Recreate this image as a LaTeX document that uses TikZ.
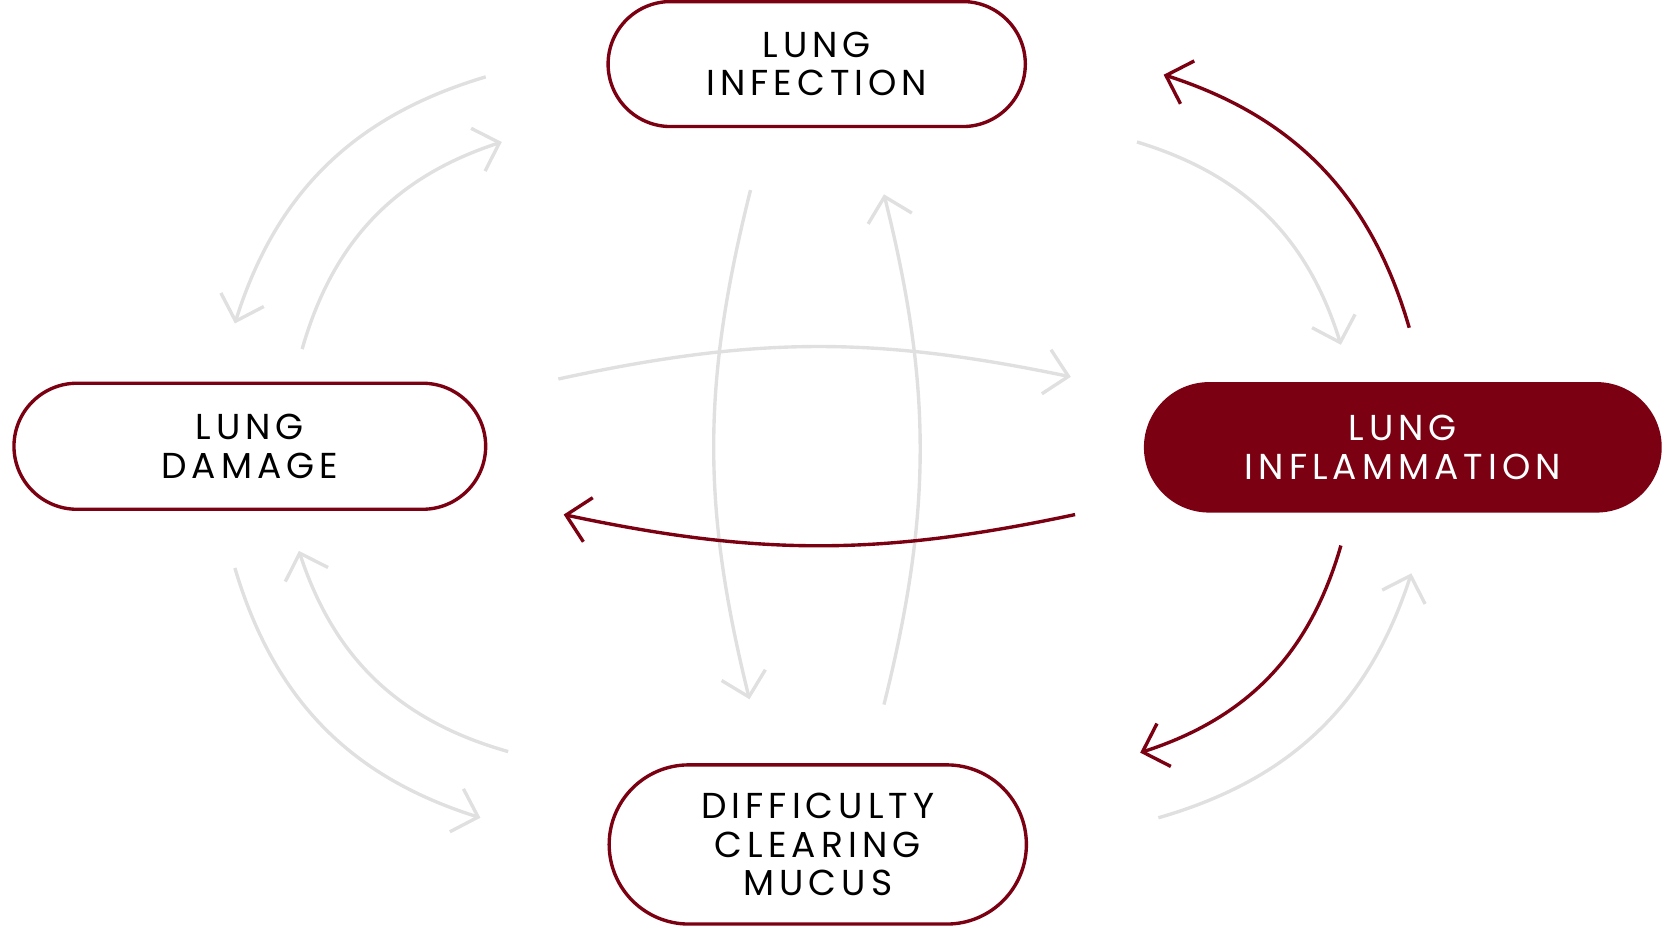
\documentclass[tikz,border=0pt]{standalone}
\usepackage{fontspec}
\setmainfont{Poppins}[LetterSpace=14]
\usetikzlibrary{arrows.meta}
\usetikzlibrary{shapes.misc}
\definecolor{wine}{RGB}{122,0,18}
\definecolor{softgrey}{RGB}{224,224,224}
\begin{document}
\begin{tikzpicture}[x=0.01cm, y=0.01cm,
		pill/.style={rounded rectangle, draw=wine, line width=0.9pt, fill=white, text=black, align=center, font=\fontsize{9.6}{10.3}\selectfont},
		hot/.style={pill, fill=wine, text=white},
		link/.style={-{Straight Barb[length=6pt,width=12pt]}, line width=0.9pt, draw=softgrey},
		key/.style={link, draw=wine}
	]
	\useasboundingbox (0,0) rectangle (1568,-870);
	% Nodes
	\node[pill, minimum width=4.14cm, minimum height=1.17cm] (infection) at (765,-60) {LUNG\\INFECTION};
	\node[pill, minimum width=4.65cm, minimum height=1.18cm] (damage) at (234,-418) {LUNG\\DAMAGE};
	\node[hot, minimum width=5.05cm, minimum height=1.19cm] (inflam) at (1314,-419) {LUNG\\INFLAMMATION};
	\node[pill, minimum width=4.14cm, minimum height=1.49cm] (mucus) at (766,-791) {DIFFICULTY\\CLEARING\\MUCUS};

	% Arrow ends
	\coordinate (a1) at (455,-72);   \coordinate (b1) at (220,-303);
	\coordinate (a2) at (283,-327);  \coordinate (b2) at (470,-133);
	\coordinate (a3) at (1065,-133); \coordinate (b3) at (1256,-323);
	\coordinate (a4) at (703,-178);  \coordinate (b4) at (702,-655);
	\coordinate (a5) at (828,-660);  \coordinate (b5) at (828,-182);
	\coordinate (a6) at (523,-355);  \coordinate (b6) at (1003,-353);
	\coordinate (a7) at (220,-532);  \coordinate (b7) at (450,-766);
	\coordinate (a8) at (476,-704);  \coordinate (b8) at (280,-516);
	\coordinate (a9) at (1085,-766); \coordinate (b9) at (1322,-537);
	\coordinate (r1) at (1320,-307); \coordinate (s1) at (1090,-70);
	\coordinate (r2) at (1007,-482); \coordinate (s2) at (528,-482);
	\coordinate (r3) at (1256,-511); \coordinate (s3) at (1068,-705);

	% Grey arrows
	\draw[link] (a1) to[bend right=28] (b1);
	\draw[link] (a2) to[bend left=28] (b2);
	\draw[link] (a3) to[bend left=28] (b3);
	\draw[link] (a4) to[bend right=14] (b4);
	\draw[link] (a5) to[bend right=14] (b5);
	\draw[link] (a6) to[bend left=12] (b6);
	\draw[link] (a7) to[bend right=28] (b7);
	\draw[link] (a8) to[bend left=28] (b8);
	\draw[link] (a9) to[bend right=28] (b9);

	% Red arrows
	\draw[key] (r1) to[bend right=28] (s1);
	\draw[key] (r2) to[bend left=12] (s2);
	\draw[key] (r3) to[bend left=28] (s3);
\end{tikzpicture}
\end{document}
